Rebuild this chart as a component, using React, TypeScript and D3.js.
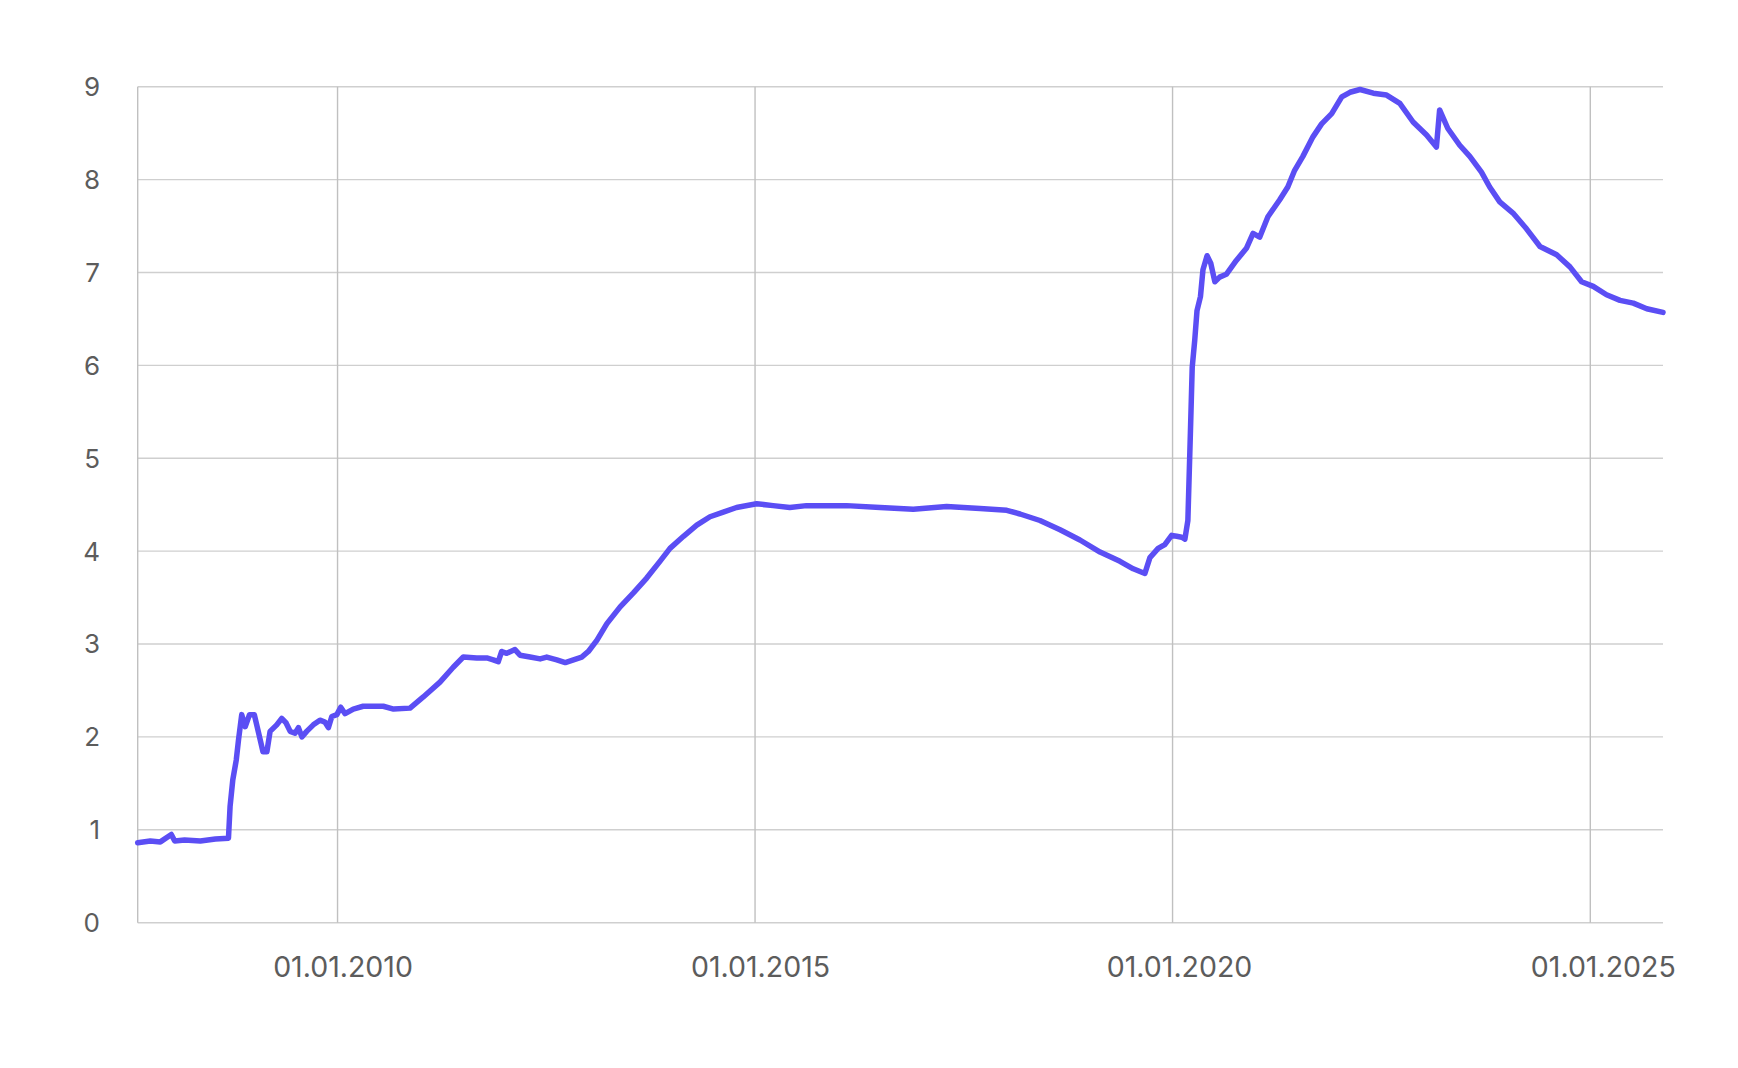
import React from "react";
import * as d3 from "d3";

const dates: string[] = [
  "2007-08-11","2007-10-05","2007-11-18","2008-01-05","2008-01-20","2008-03-03","2008-05-11","2008-07-16","2008-09-11",
  "2008-09-18","2008-09-30","2008-10-15","2008-10-25","2008-11-08","2008-11-23","2008-12-12","2009-01-02","2009-01-21",
  "2009-02-09","2009-02-26","2009-03-12","2009-04-10","2009-05-02","2009-05-21","2009-06-08","2009-06-29","2009-07-14",
  "2009-07-29","2009-08-19","2009-09-17","2009-10-16","2009-11-07","2009-11-22","2009-12-07","2009-12-29","2010-01-15",
  "2010-02-03","2010-03-11","2010-04-23","2010-06-07","2010-07-20","2010-09-03","2010-11-14","2011-01-11","2011-03-25",
  "2011-05-22","2011-07-05","2011-09-02","2011-10-16","2011-11-13","2011-12-05","2011-12-20","2012-01-11","2012-02-16",
  "2012-03-09","2012-04-22","2012-06-05","2012-07-04","2012-08-17","2012-09-23","2012-10-29","2012-12-04","2013-01-02",
  "2013-02-08","2013-03-24","2013-05-21","2013-07-18","2013-09-14","2013-11-11","2013-12-25","2014-02-22","2014-04-21",
  "2014-06-18","2014-08-15","2014-10-12","2015-01-08","2015-03-21","2015-06-02","2015-08-14","2015-11-24","2016-02-05",
  "2016-07-01","2016-11-23","2017-04-18","2017-09-11","2018-01-06","2018-03-05","2018-05-31","2018-08-27","2018-11-22",
  "2019-02-18","2019-05-16","2019-07-13","2019-09-02","2019-09-24","2019-10-30","2019-11-28","2019-12-28","2020-01-19",
  "2020-02-10","2020-02-24","2020-03-08","2020-03-19","2020-03-27","2020-04-07","2020-04-17","2020-05-02","2020-05-13",
  "2020-05-31","2020-06-16","2020-07-04","2020-07-25","2020-08-23","2020-10-06","2020-11-19","2020-12-18","2021-01-16",
  "2021-02-21","2021-04-13","2021-05-19","2021-06-18","2021-07-24","2021-09-06","2021-10-14","2021-11-27","2022-01-10",
  "2022-02-15","2022-03-31","2022-05-28","2022-07-25","2022-09-21","2022-11-18","2023-01-16","2023-02-28","2023-03-14",
  "2023-04-19","2023-06-10","2023-07-24","2023-09-13","2023-10-19","2023-12-02","2024-01-29","2024-03-28","2024-05-26",
  "2024-08-07","2024-10-04","2024-11-24","2025-01-14","2025-03-13","2025-05-11","2025-07-08","2025-09-05","2025-11-15"
];

const values: number[] = [
  0.86,0.88,0.87,0.95,0.88,0.89,0.88,0.90,0.91,
  1.25,1.54,1.75,1.97,2.24,2.11,2.24,2.24,2.04,
  1.84,1.84,2.06,2.13,2.20,2.15,2.06,2.04,2.10,
  2.00,2.06,2.13,2.18,2.16,2.10,2.22,2.24,2.32,
  2.25,2.30,2.33,2.33,2.33,2.30,2.31,2.43,2.59,
  2.75,2.86,2.85,2.85,2.83,2.81,2.92,2.90,2.94,
  2.88,2.86,2.84,2.86,2.83,2.80,2.83,2.86,2.92,
  3.04,3.22,3.40,3.55,3.71,3.89,4.03,4.16,4.28,
  4.37,4.42,4.47,4.51,4.49,4.47,4.49,4.49,4.49,
  4.47,4.45,4.48,4.46,4.44,4.40,4.33,4.23,4.12,
  3.99,3.89,3.81,3.76,3.93,4.03,4.07,4.17,4.16,
  4.15,4.13,4.33,5.27,5.98,6.27,6.59,6.74,7.03,
  7.18,7.10,6.90,6.95,6.98,7.13,7.26,7.42,7.38,
  7.60,7.78,7.92,8.10,8.25,8.46,8.60,8.71,8.89,
  8.94,8.97,8.93,8.91,8.82,8.62,8.48,8.35,8.75,
  8.55,8.37,8.25,8.08,7.92,7.76,7.64,7.47,7.28,
  7.19,7.06,6.90,6.85,6.76,6.70,6.67,6.61,6.57
];

const yTicks: number[] = [0, 1, 2, 3, 4, 5, 6, 7, 8, 9];
const xTickDates: string[] = ["2010-01-01", "2015-01-01", "2020-01-01", "2025-01-01"];
const xTickLabels: string[] = ["01.01.2010", "01.01.2015", "01.01.2020", "01.01.2025"];
const domainStart = "2007-08-11";
const domainEnd = "2025-11-15";

const W = 1738;
const H = 1068;
const M = { left: 137.7, right: 1663, top: 86.7, bottom: 922.7 };
const labelShift = [5.5, 5.5, 7, 13];

export default function App() {
  const parse = d3.utcParse("%Y-%m-%d");
  const data = dates.map((d, i) => ({ date: parse(d) as Date, value: values[i] }));
  const x = d3
    .scaleUtc()
    .domain([parse(domainStart) as Date, parse(domainEnd) as Date])
    .range([M.left, M.right]);
  const y = d3.scaleLinear().domain([0, 9]).range([M.bottom, M.top]);
  const line = d3
    .line<{ date: Date; value: number }>()
    .x((d) => x(d.date))
    .y((d) => y(d.value));

  const font = "Inter, 'Noto Sans', sans-serif";
  const textColor = "#5c5c5c";

  return (
    <div style={{ position: "absolute", left: 0, top: 0 }}>
      <svg width={W} height={H} style={{ display: "block", background: "#fff" }}>
        {yTicks.map((t) => (
          <line
            key={"h" + t}
            x1={M.left}
            x2={M.right}
            y1={y(t)}
            y2={y(t)}
            stroke="#cfcfcf"
            strokeWidth={1.4}
          />
        ))}
        {xTickDates.map((d) => (
          <line
            key={"v" + d}
            x1={x(parse(d) as Date)}
            x2={x(parse(d) as Date)}
            y1={M.top}
            y2={M.bottom}
            stroke="#c0c0c0"
            strokeWidth={1.4}
          />
        ))}
        <line x1={M.left} x2={M.left} y1={M.top} y2={M.bottom} stroke="#c0c0c0" strokeWidth={1.4} />
        {yTicks.map((t) => (
          <text
            key={"yl" + t}
            x={100}
            y={y(t)}
            dy="0.36em"
            textAnchor="end"
            fontFamily={font}
            fontSize={26}
            fill={textColor}
          >
            {t}
          </text>
        ))}
        {xTickDates.map((d, i) => (
          <text
            key={"xl" + d}
            x={x(parse(d) as Date) + labelShift[i]}
            y={977}
            textAnchor="middle"
            fontFamily={font}
            fontSize={28.5}
            fill={textColor}
          >
            {xTickLabels[i]}
          </text>
        ))}
        <path
          d={line(data) || ""}
          fill="none"
          stroke="#5b4ef4"
          strokeWidth={5.5}
          strokeLinejoin="round"
          strokeLinecap="round"
        />
      </svg>
    </div>
  );
}
